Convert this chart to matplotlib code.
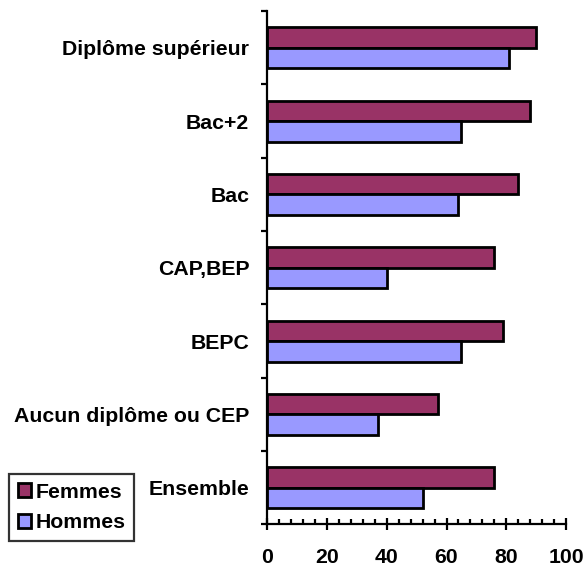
import numpy as np
import matplotlib
matplotlib.use("Agg")
from matplotlib import pyplot as plt
from matplotlib.ticker import MultipleLocator

# categories bottom -> top
categories = ["Ensemble", "Aucun diplôme ou CEP", "BEPC", "CAP,BEP",
              "Bac", "Bac+2", "Diplôme supérieur"]
femmes = [76, 57, 79, 76, 84, 88, 90]
hommes = [52, 37, 65, 40, 64, 65, 81]
x_ticks = [0, 20, 40, 60, 80, 100]

plt.rcParams['font.family'] = ['Liberation Sans', 'DejaVu Sans']
plt.rcParams['font.weight'] = 'bold'
fs = 15.3

fig = plt.figure(figsize=(5.85, 5.68), dpi=100)
ax = fig.add_axes([0.457, 0.0766, 0.5105, 0.904])

y = np.arange(len(categories))
h = 0.28
ax.barh(y + h / 2, femmes, height=h, color="#993366", edgecolor="black",
        linewidth=2, label="Femmes")
ax.barh(y - h / 2, hommes, height=h, color="#9999FF", edgecolor="black",
        linewidth=2, label="Hommes")

ax.set_xlim(0, 100)
ax.set_ylim(-0.5, len(categories) - 0.5)

for s in ["top", "right"]:
    ax.spines[s].set_visible(False)
for s in ["left", "bottom"]:
    ax.spines[s].set_linewidth(1.6)

ax.set_xticks(x_ticks)
ax.set_xticklabels([str(v) for v in x_ticks], fontsize=fs, fontweight="bold")
ax.xaxis.set_minor_locator(MultipleLocator(4))
ax.tick_params(axis="x", which="major", direction="inout", length=8, width=1.6, pad=13)
ax.tick_params(axis="x", which="minor", direction="in", length=3.5, width=1.6)

# boundaries get the tick marks, centres get the labels
ax.set_yticks(np.arange(-0.5, len(categories), 1.0))
ax.set_yticklabels([])
ax.set_yticks(y, minor=True)
ax.set_yticklabels(categories, minor=True, fontsize=fs, fontweight="bold")
ax.tick_params(axis="y", which="major", direction="out", length=4, width=1.6)
ax.tick_params(axis="y", which="minor", length=0, pad=13)

fig.legend(loc="lower left", bbox_to_anchor=(9 / 585, 1 - 541 / 568),
           prop={"size": fs, "weight": "bold"}, frameon=True, fancybox=False,
           edgecolor="black", handlelength=0.65, handleheight=0.65,
           handletextpad=0.2, borderpad=0.4, labelspacing=0.55,
           borderaxespad=0)
leg = fig.legends[0]
leg.get_frame().set_linewidth(1.6)
for p in leg.get_patches():
    p.set_linewidth(2)

fig.savefig("out.png", dpi=100)
